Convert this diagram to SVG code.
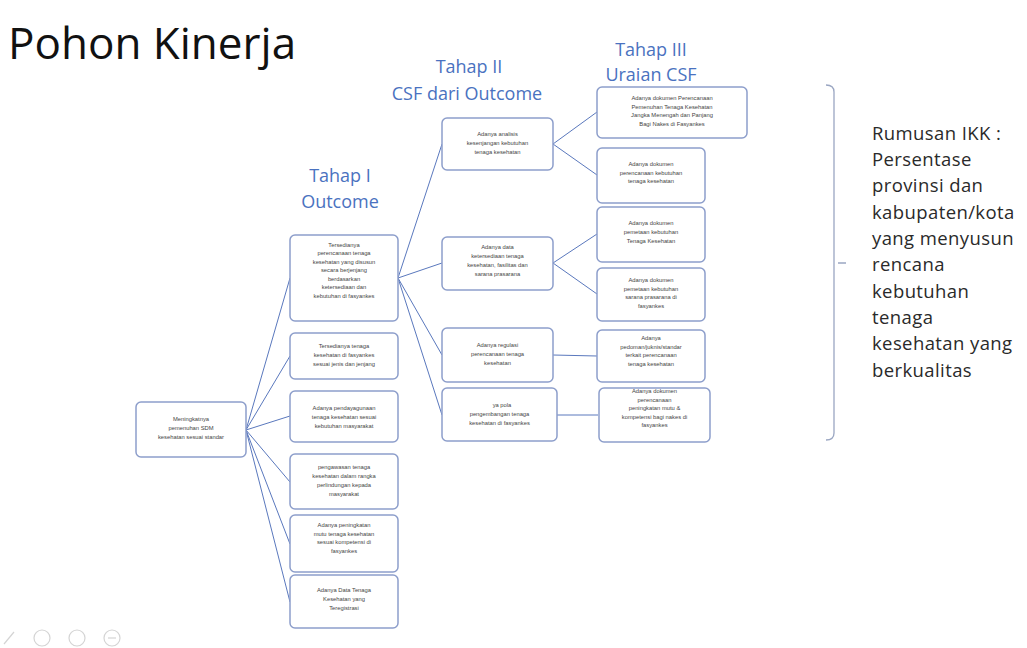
<svg xmlns="http://www.w3.org/2000/svg" width="1027" height="648" viewBox="0 0 1027 648">
<style>
.title{font-family:"Open Sans","Liberation Sans",sans-serif;font-size:44px;fill:#111}
.hd{font-family:"Open Sans","Liberation Sans",sans-serif;font-size:18px;fill:#4a72c0;text-anchor:middle}
.box{fill:#fff;stroke:#8d9ecb;stroke-width:1.5}
.bt{font-family:"Liberation Sans",sans-serif;font-size:5.8px;fill:#444;text-anchor:middle}
.con{fill:none;stroke:#5a78bd;stroke-width:1}
.rt{font-family:"Open Sans","Liberation Sans",sans-serif;font-size:18.5px;letter-spacing:0.4px;fill:#2a2a2a}
</style>
<rect width="1027" height="648" fill="#fff"/>
<text class="title" x="8" y="59">Pohon Kinerja</text>
<text class="hd" x="340" y="182">Tahap I</text>
<text class="hd" x="340" y="208">Outcome</text>
<text class="hd" x="469" y="73">Tahap II</text>
<text class="hd" x="467" y="100">CSF dari Outcome</text>
<text class="hd" x="651" y="56">Tahap III</text>
<text class="hd" x="651" y="81">Uraian CSF</text>

<g id="connectors">
<path class="con" d="M246,430 L290,278 M246,430 L290,356 M246,430 L290,416 M246,430 L290,482 M246,430 L290,544 M246,430 L290,602"/>
<path class="con" d="M398,278 L442,144 M398,278 L442,263 M398,278 L442,355 M398,278 L442,415"/>
<path class="con" d="M553,144 L597,112 M553,144 L597,175 M553,263 L597,234 M553,263 L597,294 M553,355 L597,356 M557,415 L598,415"/>
</g>

<g id="root"><rect class="box" x="136" y="402" width="110" height="55" rx="5"/>
<text class="bt" x="191" y="421">Meningkatnya</text><text class="bt" x="191" y="430">pemenuhan SDM</text><text class="bt" x="191" y="439">kesehatan sesuai standar</text></g>

<g id="c1n1"><rect class="box" x="290" y="235" width="108" height="86" rx="5"/>
<text class="bt" x="344" y="247">Tersedianya</text><text class="bt" x="344" y="255">perencanaan tenaga</text><text class="bt" x="344" y="263.5">kesehatan yang disusun</text><text class="bt" x="344" y="272">secara berjenjang</text><text class="bt" x="344" y="280.5">berdasarkan</text><text class="bt" x="344" y="289">ketersediaan dan</text><text class="bt" x="344" y="297.5">kebutuhan di fasyankes</text></g>

<g id="c1n2"><rect class="box" x="290" y="333" width="108" height="46" rx="5"/>
<text class="bt" x="344" y="348">Tersedianya tenaga</text><text class="bt" x="344" y="357">kesehatan di fasyankes</text><text class="bt" x="344" y="366">sesuai jenis dan jenjang</text></g>

<g id="c1n3"><rect class="box" x="290" y="391" width="108" height="51" rx="5"/>
<text class="bt" x="344" y="410">Adanya pendayagunaan</text><text class="bt" x="344" y="419">tenaga kesehatan sesuai</text><text class="bt" x="344" y="428">kebutuhan masyarakat</text></g>

<g id="c1n4"><rect class="box" x="290" y="454" width="108" height="55" rx="5"/>
<text class="bt" x="344" y="469">pengawasan tenaga</text><text class="bt" x="344" y="478">kesehatan dalam rangka</text><text class="bt" x="344" y="487">perlindungan kepada</text><text class="bt" x="344" y="496">masyarakat</text></g>

<g id="c1n5"><rect class="box" x="290" y="515" width="108" height="57" rx="5"/>
<text class="bt" x="344" y="527">Adanya peningkatan</text><text class="bt" x="344" y="535.5">mutu tenaga kesehatan</text><text class="bt" x="344" y="544">sesuai kompetensi di</text><text class="bt" x="344" y="552.5">fasyankes</text></g>

<g id="c1n6"><rect class="box" x="290" y="575" width="108" height="53" rx="5"/>
<text class="bt" x="344" y="592">Adanya Data Tenaga</text><text class="bt" x="344" y="601">Kesehatan yang</text><text class="bt" x="344" y="610">Teregistrasi</text></g>

<g id="c2n1"><rect class="box" x="442" y="118" width="111" height="52" rx="5"/>
<text class="bt" x="497.5" y="136">Adanya analisis</text><text class="bt" x="497.5" y="145">kesenjangan kebutuhan</text><text class="bt" x="497.5" y="153.5">tenaga kesehatan</text></g>

<g id="c2n2"><rect class="box" x="442" y="237" width="111" height="53" rx="5"/>
<text class="bt" x="497.5" y="249">Adanya data</text><text class="bt" x="497.5" y="258">ketersediaan tenaga</text><text class="bt" x="497.5" y="267">kesehatan, fasilitas dan</text><text class="bt" x="497.5" y="275.5">sarana prasarana</text></g>

<g id="c2n3"><rect class="box" x="442" y="328" width="111" height="54" rx="5"/>
<text class="bt" x="497.5" y="347">Adanya regulasi</text><text class="bt" x="497.5" y="356">perencanaan tenaga</text><text class="bt" x="497.5" y="365">kesehatan</text></g>

<g id="c2n4"><rect class="box" x="442" y="388" width="115" height="53" rx="5"/>
<text class="bt" x="502" y="407">ya pola</text><text class="bt" x="499.5" y="416">pengembangan tenaga</text><text class="bt" x="499.5" y="425">kesehatan di fasyankes</text></g>

<g id="c3n1"><rect class="box" x="597" y="87" width="150" height="51" rx="5"/>
<text class="bt" x="672" y="100">Adanya dokumen Perencanaan</text><text class="bt" x="672" y="108.5">Pemenuhan Tenaga Kesehatan</text><text class="bt" x="672" y="117">Jangka Menengah dan Panjang</text><text class="bt" x="672" y="125.5">Bagi Nakes di Fasyankes</text></g>

<g id="c3n2"><rect class="box" x="597" y="148" width="108" height="55" rx="5"/>
<text class="bt" x="651" y="166">Adanya dokumen</text><text class="bt" x="651" y="174.5">perencanaan kebutuhan</text><text class="bt" x="651" y="183">tenaga kesehatan</text></g>

<g id="c3n3"><rect class="box" x="597" y="207" width="108" height="55" rx="5"/>
<text class="bt" x="651" y="225">Adanya dokumen</text><text class="bt" x="651" y="234">pemetaan kebutuhan</text><text class="bt" x="651" y="243">Tenaga Kesehatan</text></g>

<g id="c3n4"><rect class="box" x="597" y="268" width="108" height="53" rx="5"/>
<text class="bt" x="651" y="282">Adanya dokumen</text><text class="bt" x="651" y="290.5">pemetaan kebutuhan</text><text class="bt" x="651" y="299">sarana prasarana di</text><text class="bt" x="651" y="307.5">fasyankes</text></g>

<g id="c3n5"><rect class="box" x="597" y="330" width="108" height="52" rx="5"/>
<text class="bt" x="651" y="340">Adanya</text><text class="bt" x="651" y="348.5">pedoman/juknis/standar</text><text class="bt" x="651" y="357">terkait perencanaan</text><text class="bt" x="651" y="365.5">tenaga kesehatan</text></g>

<g id="c3n6"><rect class="box" x="599" y="388" width="111" height="54" rx="5"/>
<text class="bt" x="654.5" y="393">Adanya dokumen</text><text class="bt" x="654.5" y="401.5">perencanaan</text><text class="bt" x="654.5" y="410">peningkatan mutu &amp;</text><text class="bt" x="654.5" y="418.5">kompetensi bagi nakes di</text><text class="bt" x="654.5" y="427">fasyankes</text></g>

<g id="bracket"><path d="M826,85 Q834,85 834,92 L834,433 Q834,440 826,440 M838,263 L846,263" fill="none" stroke="#9aa6c2" stroke-width="1.3"/></g>

<g id="ikk">
<text class="rt" x="872" y="140">Rumusan IKK :</text>
<text class="rt" x="872" y="166">Persentase</text>
<text class="rt" x="872" y="192">provinsi dan</text>
<text class="rt" x="872" y="219">kabupaten/kota</text>
<text class="rt" x="872" y="245">yang menyusun</text>
<text class="rt" x="872" y="271">rencana</text>
<text class="rt" x="872" y="298">kebutuhan</text>
<text class="rt" x="872" y="324">tenaga</text>
<text class="rt" x="872" y="350">kesehatan yang</text>
<text class="rt" x="872" y="377">berkualitas</text>
</g>

<g id="controls" fill="none" stroke="#d4d4d4" stroke-width="1.2">
<path d="M4,644 L14,632"/>
<circle cx="42" cy="638" r="8"/>
<circle cx="77" cy="638" r="8"/>
<circle cx="112" cy="638" r="8"/>
<path d="M108,638 L116,638"/>
</g>
</svg>
